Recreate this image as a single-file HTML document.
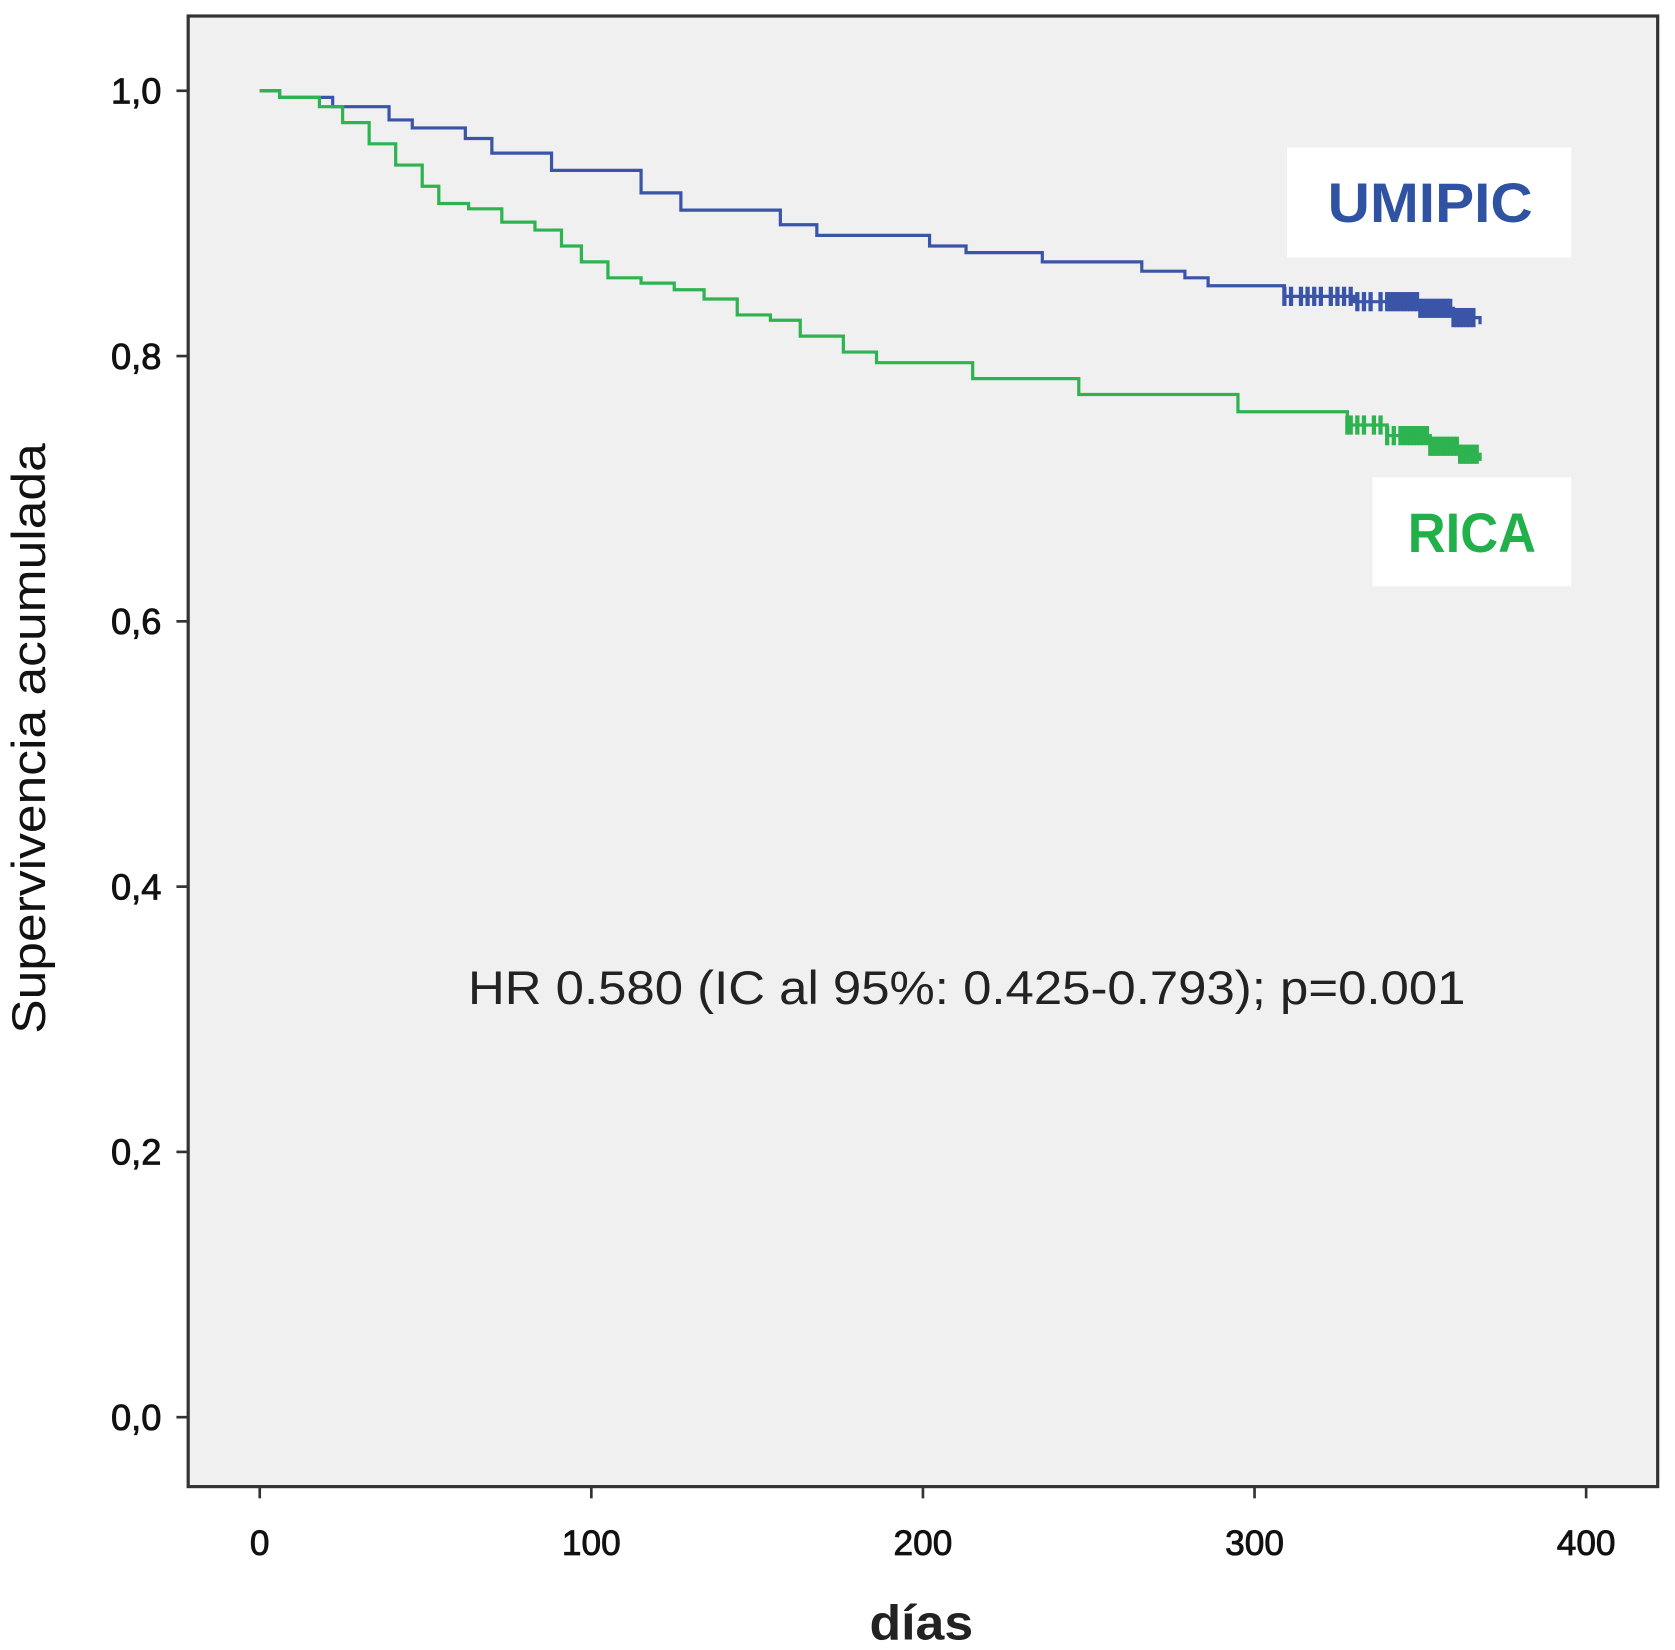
<!DOCTYPE html>
<html><head><meta charset="utf-8"><style>
html,body{margin:0;padding:0;background:#fff;}
svg{display:block;}
</style></head><body>
<svg id="chart" width="1675" height="1650" viewBox="0 0 1568 1545" xmlns="http://www.w3.org/2000/svg">
<rect x="176" y="15" width="1376" height="1377" fill="#f0f0f0" stroke="#333" stroke-width="3"/>
<g id="axes"></g>
<g id="series"></g>
<rect x="1205" y="138" width="266" height="103" fill="#fff"/>
<text x="1243" y="208" textLength="192" lengthAdjust="spacingAndGlyphs" font-family="Liberation Sans, sans-serif" font-weight="bold" font-size="52" fill="#2f52a3">UMIPIC</text>
<rect x="1285" y="447" width="186" height="102" fill="#fff"/>
<text x="1318" y="517" textLength="120" lengthAdjust="spacingAndGlyphs" font-family="Liberation Sans, sans-serif" font-weight="bold" font-size="52" fill="#22b04b">RICA</text>
<text x="438" y="940" textLength="934" lengthAdjust="spacingAndGlyphs" font-family="Liberation Sans, sans-serif" font-size="44" fill="#222">HR 0.580 (IC al 95%: 0.425-0.793); p=0.001</text>
<text transform="translate(42,692) rotate(-90)" x="-276" textLength="553" lengthAdjust="spacingAndGlyphs" font-family="Liberation Sans, sans-serif" font-size="44" fill="#111">Supervivencia acumulada</text>
<text x="814" y="1535" textLength="97" lengthAdjust="spacingAndGlyphs" font-family="Liberation Sans, sans-serif" font-weight="bold" font-size="46" fill="#222">días</text>
</svg>
<script>
const xTicks = [0, 100, 200, 300, 400];
const yTicks = [0, 0.2, 0.4, 0.6, 0.8, 1.0];
const yTickLabels = ["0,0", "0,2", "0,4", "0,6", "0,8", "1,0"];
const umipicDays = [0, 6, 22, 39, 46, 62, 70, 88, 115, 127, 157, 168, 202, 213, 236, 266, 279, 286, 309, 330, 350, 360, 368];
const umipicSurv = [1.0, 0.995, 0.988, 0.978, 0.972, 0.964, 0.953, 0.94, 0.923, 0.91, 0.899, 0.891, 0.883, 0.878, 0.871, 0.864, 0.859, 0.853, 0.845, 0.841, 0.836, 0.829, 0.824];
const ricaDays = [0, 6, 18, 25, 33, 41, 49, 54, 63, 73, 83, 91, 97, 105, 115, 125, 134, 144, 154, 163, 176, 186, 215, 247, 295, 328, 340, 353, 362, 368];
const ricaSurv = [1.0, 0.995, 0.988, 0.976, 0.96, 0.944, 0.928, 0.915, 0.911, 0.901, 0.895, 0.883, 0.871, 0.859, 0.855, 0.85, 0.843, 0.831, 0.827, 0.815, 0.803, 0.795, 0.783, 0.771, 0.758, 0.748, 0.74, 0.732, 0.726, 0.721];
const umipicCensor = [309, 311, 314, 316, 318, 320, 323, 325, 327, 329, 331, 333, 335, 338, 340, 341, 342, 343, 344, 345, 346, 347, 348, 349, 350, 351, 352, 353, 354, 355, 356, 357, 358, 359, 360, 361, 362, 363, 364, 365, 366];
const ricaCensor = [328, 329, 331, 333, 336, 338, 340, 342, 344, 345, 346, 347, 348, 349, 350, 351, 352, 353, 354, 355, 356, 357, 358, 359, 360, 361, 362, 363, 364, 365, 366, 367];

const NS = "http://www.w3.org/2000/svg";
const xs = d => 243 + d * 3.105;
const ys = s => 1327 - s * 1242;
function mk(tag, attrs, parent) {
  const e = document.createElementNS(NS, tag);
  for (const k in attrs) e.setAttribute(k, attrs[k]);
  parent.appendChild(e);
  return e;
}
const axes = document.getElementById('axes');
xTicks.forEach(t => {
  const l = mk('line', {x1: xs(t), x2: xs(t), y1: 1392, y2: 1403, stroke: '#333', 'stroke-width': 2.5}, axes);
  
  
  const tx = mk('text', {x: xs(t), y: 1456, 'text-anchor': 'middle', 'font-family': 'Liberation Sans, sans-serif', 'font-size': 33, fill: '#111', stroke: '#111', 'stroke-width': 0.8}, axes);
  tx.textContent = t;
  
  
});
yTicks.forEach((t, i) => {
  const l = mk('line', {x1: 165, x2: 176, y1: ys(t), y2: ys(t), stroke: '#333', 'stroke-width': 2.5}, axes);
  
  
  const tx = mk('text', {x: 151, y: ys(t) + 12, 'text-anchor': 'end', 'font-family': 'Liberation Sans, sans-serif', 'font-size': 34, fill: '#111', stroke: '#111', 'stroke-width': 0.8}, axes);
  tx.textContent = yTickLabels[i];
  
  
});
const series = document.getElementById('series');
function stepPath(days, surv) {
  let d = 'M' + xs(days[0]) + ' ' + ys(surv[0]);
  for (let i = 1; i < days.length; i++) {
    d += ' H' + xs(days[i]) + ' V' + ys(surv[i]);
  }
  return d;
}
function survAt(days, surv, t) {
  let s = surv[0];
  for (let i = 0; i < days.length; i++) if (days[i] <= t) s = surv[i];
  return s;
}
function drawSeries(name, days, surv, censor, color) {
  const p = mk('path', {d: stepPath(days, surv), fill: 'none', stroke: color, 'stroke-width': 3}, series);
  
  
  censor.forEach(c => {
    const x = xs(c), y = ys(survAt(days, surv, c));
    const m = mk('path', {d: 'M' + x + ' ' + (y - 9) + ' V' + (y + 9), stroke: color, 'stroke-width': 4}, series);
    
    
  });
}
drawSeries('umipic', umipicDays, umipicSurv, umipicCensor, '#3a55a8');
drawSeries('rica', ricaDays, ricaSurv, ricaCensor, '#2db34f');
</script>
</body></html>
